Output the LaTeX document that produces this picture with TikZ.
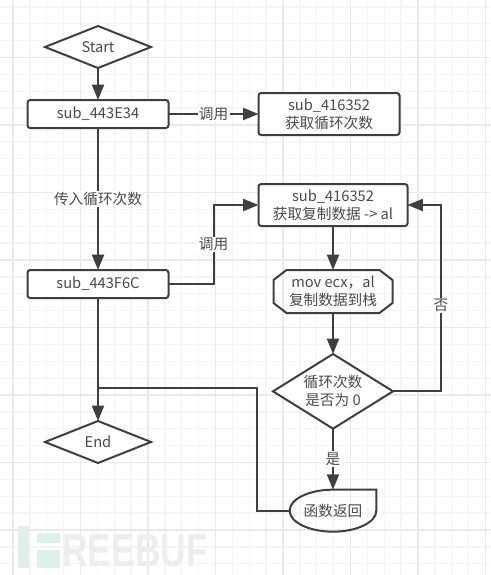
\documentclass[tikz,border=0pt]{standalone}
\usepackage{fontspec}
\setmainfont{Noto Sans CJK SC}
\newfontfamily\wmfont{Liberation Sans}
\usepackage{xcolor}
\definecolor{ink}{HTML}{3F3F3F}
\definecolor{txt}{HTML}{4A4A4A}
\definecolor{gmin}{HTML}{F5F5F5}
\definecolor{gmaj}{HTML}{E9E9E9}
\definecolor{wmgreen}{HTML}{E0EFE9}
\definecolor{wmgray}{HTML}{EDEDED}
\usetikzlibrary{arrows.meta,positioning,shapes.geometric}
\tikzset{
  >={Triangle[length=11.5pt,width=9pt]},
  basefont/.style={font=\fontsize{11}{13.5}\selectfont,text=txt,align=center},
  fbox/.style={basefont,draw=ink,line width=1.5pt,rounded corners=2pt,inner sep=0pt,outer sep=0pt,fill=white},
  fdia/.style={basefont,diamond,draw=ink,line width=1.5pt,inner sep=0pt,outer sep=0pt,fill=white,shape aspect=2.5},
  fbare/.style={basefont,inner sep=0pt,outer sep=0pt},
  arr/.style={->,draw=ink,line width=1.5pt},
  edge/.style={draw=ink,line width=1.5pt},
  lab/.style={basefont,fill=white,inner sep=1pt},
}
\begin{document}
\begin{tikzpicture}[x=0.75pt,y=-0.75pt,
  bx/.style={fbox,minimum width=105.75pt,minimum height=21pt},
  bxx/.style={fbox,minimum width=105.75pt,minimum height=31.5pt}]
\fill[white] (0,0) rectangle (490,575);
\useasboundingbox (0,0) rectangle (490,575);
\foreach \k in {0,...,28} \draw[gmin,line width=1pt] (13+16.875*\k,0) -- (13+16.875*\k,575);
\foreach \k in {0,...,33} \draw[gmin,line width=1pt] (0,6.875+16.875*\k) -- (490,6.875+16.875*\k);
\foreach \k in {0,...,7} \draw[gmaj,line width=1pt] (13+67.5*\k,0) -- (13+67.5*\k,575);
\foreach \k in {0,...,7} \draw[gmaj,line width=1pt] (0,57.5+67.5*\k) -- (490,57.5+67.5*\k);
\fill[wmgreen] (18,526) rectangle (29,568);
\fill[wmgreen] (37,533) rectangle (60,543);
\fill[wmgreen] (37,550) rectangle (60,568);
\node[font=\wmfont\fontsize{34.5}{34.5}\selectfont\bfseries,text=wmgray,xscale=0.77,anchor=west,inner sep=0pt] (wm) at (62,550.5) {REEBUF};
\node[fdia,minimum width=79.5pt,minimum height=31.5pt] (start) at (98,47) {Start};
\node[bx,below=24pt of start] (first) {sub\_443E34};
\node[bx,below=106.5pt of first] (second) {sub\_443F6C};
\node[fdia,minimum width=79.5pt,minimum height=31.5pt,below=92.25pt of second] (finish) {End};
\node[bxx,right=67.5pt of first] (count) {sub\_416352\\获取循环次数};
\node[bxx,minimum width=111.75pt,below=36.75pt of count.south west,anchor=north west] (fetch) {sub\_416352\\获取复制数据 -> al};
\node[fbare,minimum width=89.25pt,minimum height=32.25pt,below=33pt of fetch] (copy) {mov ecx，al\\复制数据到栈};
\node[fdia,shape aspect=1.6,inner sep=-3pt,minimum width=90pt,minimum height=56pt,below=30.75pt of copy] (test) {循环次数\\是否为 0};
\node[fbare,minimum width=65pt,minimum height=31.5pt,below=45.75pt of test] (ret) {函数返回};
\draw[edge] (copy.north west) ++(13,0) -- ++(93,0) -- ++(13,10) -- ++(0,23) -- ++(-13,10) -- ++(-93,0) -- ++(-13,-10) -- ++(0,-23) -- cycle;
\draw[edge] (ret.north) -- (ret.north east) -- (ret.east) .. controls +(0,11.5) and +(24,0) .. (ret.south) .. controls +(-24,0) and +(0,11.5) .. (ret.west) .. controls +(0,-11.5) and +(-24,0) .. (ret.north);
\draw[arr] (start) -- (first);
\draw[arr] (first) -- node[lab] {传入循环次数} (second);
\draw[arr] (first) -- node[lab] {调用} (count);
\draw[arr] (second.east) -- ++(45,0) |- node[lab,pos=0.25] {调用} (fetch.west);
\draw[arr] (fetch) -- (copy);
\draw[arr] (copy) -- (test);
\draw[arr] (test) -- node[lab,pos=0.5] {是} (ret);
\draw[arr] (test.east) -- ++(48,0) |- node[lab,pos=0.23] {否} (fetch.east);
\coordinate (join) at (98,388);
\draw[edge] (ret.west) -- ++(-33,0) |- (join);
\draw[arr] (second) -- (finish);
\end{tikzpicture}
\end{document}
